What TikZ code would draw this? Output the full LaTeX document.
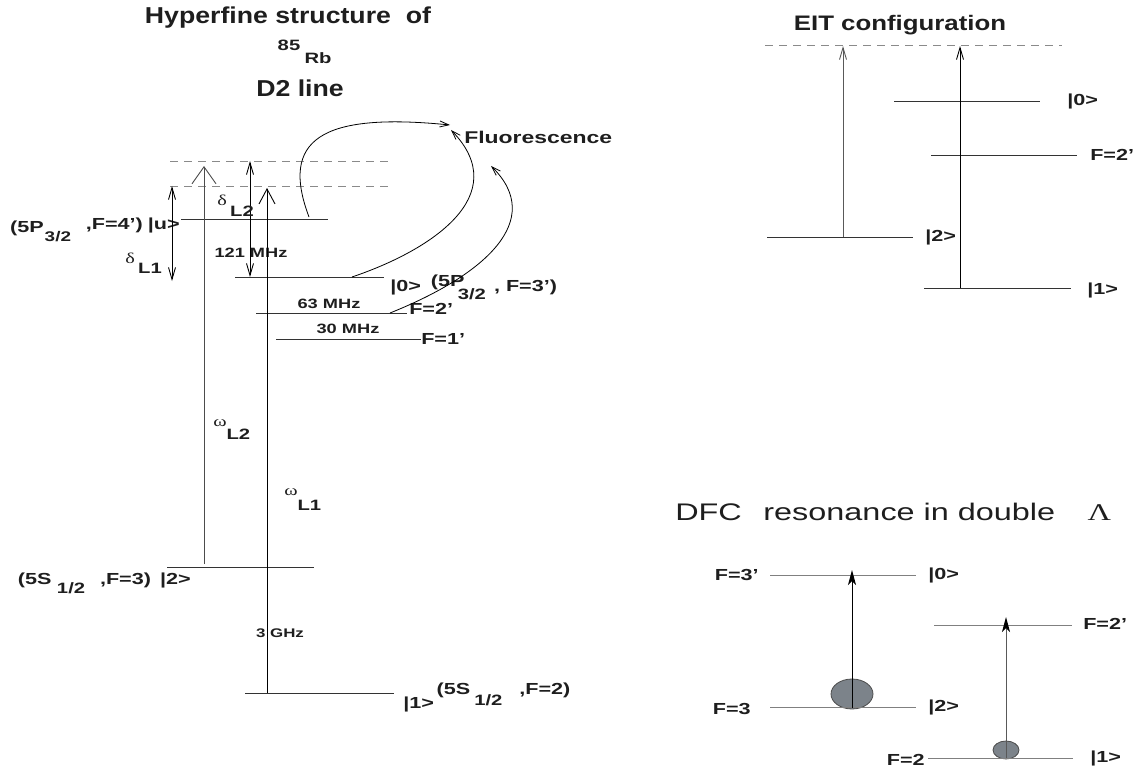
\documentclass[tikz,border=0pt]{standalone}
\usepackage{fontspec}
\setsansfont{Liberation Sans}
\newfontfamily\grk{Liberation Serif}
\usetikzlibrary{arrows.meta, shapes.geometric}
\usepackage{xcolor}
\definecolor{inkcol}{HTML}{1E1E1E}
\definecolor{dashcol}{HTML}{8A8A8A}
\definecolor{dropcol}{HTML}{7C838A}

\begin{document}
\begin{tikzpicture}[
    x=1pt, y=-1pt,
    level/.style={draw=black!80, line width=0.9pt},
    palelevel/.style={draw=black!50, line width=0.9pt},
    virt/.style={draw=dashcol, line width=0.9pt, dash pattern=on 8pt off 6pt},
    widebarb/.style={-{Straight Barb[length=17pt, width=24pt]}, line width=0.9pt},
    pump/.style={-{Straight Barb[length=15pt, width=16pt]}, line width=0.9pt},
    thinbarb/.style={-{Straight Barb[length=12pt, width=7pt]}, line width=0.9pt},
    detune/.style={{Straight Barb[length=12pt, width=7pt]}-{Straight Barb[length=12pt, width=7pt]}, line width=0.9pt},
    fluo/.style={-{Straight Barb[length=9pt, width=6pt]}, line width=0.8pt},
    probe/.style={-{Stealth[length=15pt, width=8pt, inset=4pt, color=black]}, line width=1pt},
    heading/.style={font=\sffamily\bfseries\fontsize{23}{27}\selectfont, text=inkcol, xscale=1.16, inner sep=0pt},
    plainhead/.style={font=\sffamily\fontsize{24}{28}\selectfont, text=inkcol, xscale=1.35, inner sep=0pt},
    lab/.style={font=\sffamily\bfseries\fontsize{16}{19}\selectfont, text=inkcol, xscale=1.35, inner sep=0pt},
    freq/.style={font=\sffamily\bfseries\fontsize{13.5}{16}\selectfont, text=inkcol, xscale=1.35, inner sep=0pt},
    greek/.style={font=\grk\fontsize{15}{18}\selectfont, text=inkcol, xscale=1.35, inner sep=0pt},
    pop/.style={ellipse, draw=black!70, fill=dropcol, line width=0.8pt, inner sep=0pt},
]
\useasboundingbox (0,0) rectangle (1137,767);

% ============================================================
%  Hyperfine structure of 85Rb, D2 line
% ============================================================
\node[heading] (hfsTitle) at (288,18) {Hyperfine structure~ of};
\node[freq, font=\sffamily\bfseries\fontsize{15}{18}\selectfont] (isoNum) at (289,45) {85};
\node[freq, font=\sffamily\bfseries\fontsize{15}{18}\selectfont] (isoRb) at (318,58) {Rb};
\node[heading] (lineTitle) at (300,88) {D2 line};

% --- virtual levels ---
\coordinate (vaW) at (170,161); \coordinate (vaE) at (388,161);
\coordinate (vbW) at (170,186); \coordinate (vbE) at (388,186);
\draw[virt] (vaW) -- (vaE);
\draw[virt] (vbW) -- (vbE);

% --- hyperfine levels ---
\foreach \nm/\xa/\xb/\yy in {lu/181/328/219, lz/235/384/277, lf/256/407/313,
                             le/276/421/339, lt/167/314/567, lo/245/394/693} {
    \coordinate (\nm W) at (\xa,\yy);
    \coordinate (\nm E) at (\xb,\yy);
    \draw[level] (\nm W) -- (\nm E);
}

\node[lab, anchor=base east] (luLbl) at (180,230)
    {\raisebox{-3pt}{(5P}\hspace{0.7pt}\raisebox{-12pt}{\fontsize{14}{17}\selectfont 3/2}\hspace{11pt},F=4')\hspace{3.7pt}|u>};
\node[lab, anchor=base west] (lzLbl) at (390,291)
    {|0>\hspace{7.4pt}\raisebox{5pt}{(5P}\hspace{-5pt}\raisebox{-8pt}{\fontsize{15}{18}\selectfont 3/2}\hspace{6pt}, F=3')};
\node[lab, anchor=west] (lfLbl) at (409,309) {F=2'};
\node[lab, anchor=west] (leLbl) at (421,339) {F=1'};
\node[lab, anchor=base east] (ltLbl) at (191,584)
    {(5S\hspace{4pt}\raisebox{-9pt}{\fontsize{15}{18}\selectfont 1/2}\hspace{11pt},F=3)\hspace{6.7pt}|2>};
\node[lab, anchor=base west] (loLbl) at (403,694)
    {\raisebox{-14pt}{|1>}\hspace{2pt}(5S\hspace{3pt}\raisebox{-11pt}{\fontsize{15}{18}\selectfont 1/2}\hspace{12.5pt},F=2)};

\node[freq] (fUZ) at (251,253) {121 MHz};
\node[freq] (fZF) at (329,304) {63 MHz};
\node[freq] (fFE) at (348,329) {30 MHz};
\node[freq, font=\sffamily\bfseries\fontsize{12.5}{15}\selectfont] (fGnd) at (280,633) {3 GHz};

% --- laser fields ---
\coordinate (wtB) at (204,564); \coordinate (wtT) at (204,166);
\coordinate (woB) at (267,693); \coordinate (woT) at (267,188);
\draw[widebarb, draw=black!70] (wtB) -- (wtT);
\draw[pump] (woB) -- (woT);
\node[greek, anchor=base west] (wtLbl) at (213,426) {ω\raisebox{-13pt}{\sffamily\bfseries L2}};
\node[greek, anchor=base west] (woLbl) at (284,495) {ω\raisebox{-15pt}{\sffamily\bfseries L1}};

% --- detunings ---
\coordinate (doT) at (172,186); \coordinate (doB) at (172,281);
\coordinate (dtT) at (250,161); \coordinate (dtB) at (250,277);
\draw[detune] (doT) -- (doB);
\draw[detune] (dtT) -- (dtB);
\node[greek, anchor=base west] (doLbl) at (125,263) {δ\,\raisebox{-10pt}{\sffamily\bfseries L1}};
\node[greek, anchor=base west] (dtLbl) at (217,206) {δ\,\raisebox{-11pt}{\sffamily\bfseries L2}};

% --- fluorescence ---
\node[lab, font=\sffamily\bfseries\fontsize{17}{20}\selectfont, anchor=west] (fluoLbl) at (464,137) {Fluorescence};
\coordinate (fuS) at (309,217); \coordinate (fuT) at (450,125);
\coordinate (fzS) at (352,277); \coordinate (fzT) at (451,130);
\coordinate (ffS) at (390,313); \coordinate (ffT) at (491,166);
\draw[fluo] (fuS) .. controls (280,140) and (320,112) .. (fuT);
\draw[fluo] (fzS) .. controls (432,250) and (514,195) .. (fzT);
\draw[fluo] (ffS) .. controls (485,275) and (546,220) .. (ffT);

% ============================================================
%  EIT configuration
% ============================================================
\node[heading, font=\sffamily\bfseries\fontsize{21}{25}\selectfont, xscale=1.06] (eitTitle) at (900,25) {EIT configuration};

\coordinate (evW) at (765,45); \coordinate (evE) at (1062,45);
\draw[virt] (evW) -- (evE);

\foreach \nm/\xa/\xb/\yy in {ez/894/1040/101, ef/931/1077/155, et/767/913/237, eo/924/1071/288} {
    \coordinate (\nm W) at (\xa,\yy);
    \coordinate (\nm E) at (\xb,\yy);
    \draw[level] (\nm W) -- (\nm E);
}
\node[lab, anchor=west] (ezLbl) at (1067,101) {|0>};
\node[lab, anchor=west] (efLbl) at (1090,155) {F=2'};
\node[lab, anchor=west] (etLbl) at (925,237) {|2>};
\node[lab, anchor=west] (eoLbl) at (1087,290) {|1>};

\coordinate (eaB) at (843,237); \coordinate (eaT) at (843,46);
\coordinate (ebB) at (960,288); \coordinate (ebT) at (960,46);
\draw[thinbarb, draw=black!65] (eaB) -- (eaT);
\draw[thinbarb] (ebB) -- (ebT);

% ============================================================
%  DFC resonance in double Lambda
% ============================================================
\node[plainhead, anchor=west] (dfcTitle) at (675,512)
    {DFC\hspace{16pt}resonance in double\hspace{24pt}{\grk Λ}};

% --- populations ---
\node[pop, minimum width=42pt, minimum height=30pt] (popA) at (852,694) {};
\node[pop, minimum width=26pt, minimum height=18pt] (popB) at (1006,750) {};

\foreach \nm/\xa/\xb/\yy in {dz/770/916/575, df/934/1072/625, dt/770/916/707, do/928/1073/758} {
    \coordinate (\nm W) at (\xa,\yy);
    \coordinate (\nm E) at (\xb,\yy);
    \draw[palelevel] (\nm W) -- (\nm E);
}
\node[lab, anchor=east] (dzLeft) at (759,575) {F=3'};
\node[lab, anchor=west] (dzRight) at (928,575) {|0>};
\node[lab, anchor=west] (dfRight) at (1083,624) {F=2'};
\node[lab, anchor=east] (dtLeft) at (751,709) {F=3};
\node[lab, anchor=west] (dtRight) at (928,707) {|2>};
\node[lab, anchor=east] (doLeft) at (925,760) {F=2};
\node[lab, anchor=west] (doRight) at (1090,758) {|1>};

\coordinate (paB) at (852,708); \coordinate (paT) at (852,570);
\coordinate (pbB) at (1006,758); \coordinate (pbT) at (1006,617);
\draw[probe] (paB) -- (paT);
\draw[probe, draw=black!65] (pbB) -- (pbT);

\end{tikzpicture}
\end{document}
